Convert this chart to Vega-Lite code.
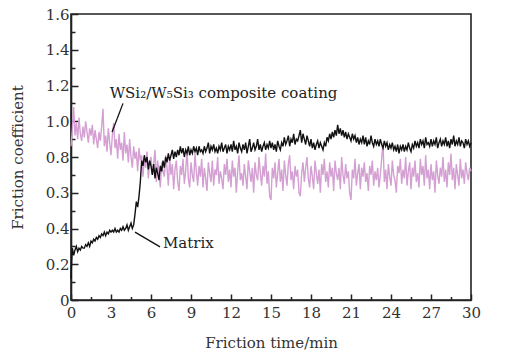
{
  "$schema": "https://vega.github.io/schema/vega-lite/v6.json",
  "width": 400,
  "height": 286,
  "autosize": "none",
  "padding": {"left": 71, "top": 14, "right": 51, "bottom": 54},
  "background": "#ffffff",
  "config": {
    "view": {"stroke": "#222222", "strokeWidth": 1.6},
    "axis": {
      "grid": false,
      "domainColor": "#222222",
      "domainWidth": 1.6,
      "tickColor": "#222222",
      "tickWidth": 1.5,
      "labelFont": "DejaVu Serif",
      "labelFontSize": 15,
      "labelColor": "#333333",
      "labelOverlap": false,
      "labelFlush": false,
      "labelBound": false,
      "titleFont": "DejaVu Serif",
      "titleFontSize": 15,
      "titleFontWeight": "normal",
      "titleColor": "#333333"
    },
    "text": {"font": "DejaVu Serif"}
  },
  "datasets": {
    "coating": [
      {"t":0.0,"f":0.86},{"t":0.1,"f":0.95},{"t":0.2,"f":1.08},{"t":0.3,"f":0.92},{"t":0.4,"f":0.99},{"t":0.5,"f":0.90},{"t":0.6,"f":1.02},{"t":0.7,"f":0.93},{"t":0.8,"f":0.89},{"t":0.9,"f":0.97},
      {"t":1.0,"f":0.91},{"t":1.1,"f":1.00},{"t":1.2,"f":0.94},{"t":1.3,"f":0.88},{"t":1.4,"f":0.96},{"t":1.5,"f":0.92},{"t":1.6,"f":0.98},{"t":1.7,"f":0.87},{"t":1.8,"f":0.95},{"t":1.9,"f":0.90},
      {"t":2.0,"f":0.85},{"t":2.1,"f":0.94},{"t":2.2,"f":0.89},{"t":2.3,"f":0.97},{"t":2.4,"f":1.07},{"t":2.5,"f":0.86},{"t":2.6,"f":0.92},{"t":2.7,"f":0.83},{"t":2.8,"f":0.96},{"t":2.9,"f":0.88},
      {"t":3.0,"f":0.81},{"t":3.1,"f":0.92},{"t":3.2,"f":0.99},{"t":3.3,"f":0.85},{"t":3.4,"f":0.90},{"t":3.5,"f":0.79},{"t":3.6,"f":0.93},{"t":3.7,"f":0.84},{"t":3.8,"f":0.88},{"t":3.9,"f":0.78},
      {"t":4.0,"f":0.94},{"t":4.1,"f":0.82},{"t":4.2,"f":0.87},{"t":4.3,"f":0.77},{"t":4.4,"f":0.90},{"t":4.5,"f":0.80},{"t":4.6,"f":0.74},{"t":4.7,"f":0.86},{"t":4.8,"f":0.79},{"t":4.9,"f":0.83},
      {"t":5.0,"f":0.72},{"t":5.1,"f":0.85},{"t":5.2,"f":0.78},{"t":5.3,"f":0.81},{"t":5.4,"f":0.69},{"t":5.5,"f":0.80},{"t":5.6,"f":0.74},{"t":5.7,"f":0.83},{"t":5.8,"f":0.68},{"t":5.9,"f":0.77},
      {"t":6.0,"f":0.80},{"t":6.1,"f":0.70},{"t":6.2,"f":0.76},{"t":6.3,"f":0.84},{"t":6.4,"f":0.66},{"t":6.5,"f":0.78},{"t":6.6,"f":0.71},{"t":6.7,"f":0.63},{"t":6.8,"f":0.77},{"t":6.9,"f":0.72},
      {"t":7.0,"f":0.69},{"t":7.1,"f":0.81},{"t":7.2,"f":0.74},{"t":7.3,"f":0.64},{"t":7.4,"f":0.79},{"t":7.5,"f":0.70},{"t":7.6,"f":0.76},{"t":7.7,"f":0.62},{"t":7.8,"f":0.73},{"t":7.9,"f":0.78},
      {"t":8.0,"f":0.66},{"t":8.1,"f":0.61},{"t":8.2,"f":0.75},{"t":8.3,"f":0.70},{"t":8.4,"f":0.79},{"t":8.5,"f":0.65},{"t":8.6,"f":0.72},{"t":8.7,"f":0.84},{"t":8.8,"f":0.68},{"t":8.9,"f":0.63},
      {"t":9.0,"f":0.77},{"t":9.1,"f":0.70},{"t":9.2,"f":0.66},{"t":9.3,"f":0.82},{"t":9.4,"f":0.72},{"t":9.5,"f":0.64},{"t":9.6,"f":0.75},{"t":9.7,"f":0.69},{"t":9.8,"f":0.79},{"t":9.9,"f":0.63},
      {"t":10.0,"f":0.74},{"t":10.1,"f":0.68},{"t":10.2,"f":0.61},{"t":10.3,"f":0.77},{"t":10.4,"f":0.71},{"t":10.5,"f":0.66},{"t":10.6,"f":0.78},{"t":10.7,"f":0.64},{"t":10.8,"f":0.73},{"t":10.9,"f":0.70},
      {"t":11.0,"f":0.80},{"t":11.1,"f":0.65},{"t":11.2,"f":0.72},{"t":11.3,"f":0.68},{"t":11.4,"f":0.62},{"t":11.5,"f":0.76},{"t":11.6,"f":0.70},{"t":11.7,"f":0.79},{"t":11.8,"f":0.66},{"t":11.9,"f":0.73},
      {"t":12.0,"f":0.63},{"t":12.1,"f":0.78},{"t":12.2,"f":0.69},{"t":12.3,"f":0.74},{"t":12.4,"f":0.60},{"t":12.5,"f":0.72},{"t":12.6,"f":0.81},{"t":12.7,"f":0.67},{"t":12.8,"f":0.71},{"t":12.9,"f":0.64},
      {"t":13.0,"f":0.76},{"t":13.1,"f":0.69},{"t":13.2,"f":0.62},{"t":13.3,"f":0.78},{"t":13.4,"f":0.72},{"t":13.5,"f":0.66},{"t":13.6,"f":0.74},{"t":13.7,"f":0.60},{"t":13.8,"f":0.77},{"t":13.9,"f":0.70},
      {"t":14.0,"f":0.67},{"t":14.1,"f":0.80},{"t":14.2,"f":0.71},{"t":14.3,"f":0.64},{"t":14.4,"f":0.75},{"t":14.5,"f":0.69},{"t":14.6,"f":0.82},{"t":14.7,"f":0.65},{"t":14.8,"f":0.72},{"t":14.9,"f":0.58},
      {"t":15.0,"f":0.56},{"t":15.1,"f":0.74},{"t":15.2,"f":0.68},{"t":15.3,"f":0.77},{"t":15.4,"f":0.63},{"t":15.5,"f":0.71},{"t":15.6,"f":0.79},{"t":15.7,"f":0.66},{"t":15.8,"f":0.73},{"t":15.9,"f":0.61},
      {"t":16.0,"f":0.78},{"t":16.1,"f":0.70},{"t":16.2,"f":0.64},{"t":16.3,"f":0.76},{"t":16.4,"f":0.81},{"t":16.5,"f":0.67},{"t":16.6,"f":0.72},{"t":16.7,"f":0.62},{"t":16.8,"f":0.75},{"t":16.9,"f":0.69},
      {"t":17.0,"f":0.73},{"t":17.1,"f":0.60},{"t":17.2,"f":0.58},{"t":17.3,"f":0.71},{"t":17.4,"f":0.77},{"t":17.5,"f":0.66},{"t":17.6,"f":0.74},{"t":17.7,"f":0.80},{"t":17.8,"f":0.68},{"t":17.9,"f":0.63},
      {"t":18.0,"f":0.75},{"t":18.1,"f":0.69},{"t":18.2,"f":0.62},{"t":18.3,"f":0.78},{"t":18.4,"f":0.71},{"t":18.5,"f":0.65},{"t":18.6,"f":0.73},{"t":18.7,"f":0.60},{"t":18.8,"f":0.76},{"t":18.9,"f":0.70},
      {"t":19.0,"f":0.79},{"t":19.1,"f":0.66},{"t":19.2,"f":0.72},{"t":19.3,"f":0.63},{"t":19.4,"f":0.77},{"t":19.5,"f":0.69},{"t":19.6,"f":0.74},{"t":19.7,"f":0.61},{"t":19.8,"f":0.78},{"t":19.9,"f":0.71},
      {"t":20.0,"f":0.67},{"t":20.1,"f":0.74},{"t":20.2,"f":0.62},{"t":20.3,"f":0.80},{"t":20.4,"f":0.70},{"t":20.5,"f":0.65},{"t":20.6,"f":0.76},{"t":20.7,"f":0.68},{"t":20.8,"f":0.72},{"t":20.9,"f":0.60},
      {"t":21.0,"f":0.56},{"t":21.1,"f":0.73},{"t":21.2,"f":0.68},{"t":21.3,"f":0.79},{"t":21.4,"f":0.64},{"t":21.5,"f":0.71},{"t":21.6,"f":0.76},{"t":21.7,"f":0.62},{"t":21.8,"f":0.74},{"t":21.9,"f":0.69},
      {"t":22.0,"f":0.77},{"t":22.1,"f":0.66},{"t":22.2,"f":0.71},{"t":22.3,"f":0.61},{"t":22.4,"f":0.75},{"t":22.5,"f":0.70},{"t":22.6,"f":0.78},{"t":22.7,"f":0.64},{"t":22.8,"f":0.72},{"t":22.9,"f":0.67},
      {"t":23.0,"f":0.74},{"t":23.1,"f":0.63},{"t":23.2,"f":0.70},{"t":23.3,"f":0.79},{"t":23.4,"f":0.88},{"t":23.5,"f":0.66},{"t":23.6,"f":0.73},{"t":23.7,"f":0.62},{"t":23.8,"f":0.76},{"t":23.9,"f":0.69},
      {"t":24.0,"f":0.64},{"t":24.1,"f":0.78},{"t":24.2,"f":0.70},{"t":24.3,"f":0.67},{"t":24.4,"f":0.60},{"t":24.5,"f":0.75},{"t":24.6,"f":0.71},{"t":24.7,"f":0.79},{"t":24.8,"f":0.65},{"t":24.9,"f":0.73},
      {"t":25.0,"f":0.68},{"t":25.1,"f":0.80},{"t":25.2,"f":0.64},{"t":25.3,"f":0.72},{"t":25.4,"f":0.77},{"t":25.5,"f":0.62},{"t":25.6,"f":0.74},{"t":25.7,"f":0.69},{"t":25.8,"f":0.78},{"t":25.9,"f":0.66},
      {"t":26.0,"f":0.71},{"t":26.1,"f":0.63},{"t":26.2,"f":0.79},{"t":26.3,"f":0.70},{"t":26.4,"f":0.75},{"t":26.5,"f":0.64},{"t":26.6,"f":0.81},{"t":26.7,"f":0.68},{"t":26.8,"f":0.73},{"t":26.9,"f":0.62},
      {"t":27.0,"f":0.76},{"t":27.1,"f":0.67},{"t":27.2,"f":0.72},{"t":27.3,"f":0.60},{"t":27.4,"f":0.78},{"t":27.5,"f":0.70},{"t":27.6,"f":0.65},{"t":27.7,"f":0.74},{"t":27.8,"f":0.69},{"t":27.9,"f":0.80},
      {"t":28.0,"f":0.66},{"t":28.1,"f":0.73},{"t":28.2,"f":0.63},{"t":28.3,"f":0.77},{"t":28.4,"f":0.70},{"t":28.5,"f":0.82},{"t":28.6,"f":0.67},{"t":28.7,"f":0.74},{"t":28.8,"f":0.62},{"t":28.9,"f":0.76},
      {"t":29.0,"f":0.70},{"t":29.1,"f":0.64},{"t":29.2,"f":0.79},{"t":29.3,"f":0.68},{"t":29.4,"f":0.73},{"t":29.5,"f":0.65},{"t":29.6,"f":0.77},{"t":29.7,"f":0.71},{"t":29.8,"f":0.67},{"t":29.9,"f":0.74},
      {"t":30.0,"f":0.72}
    ],
    "matrix": [
      {"t":0.0,"f":0.12},{"t":0.05,"f":0.22},{"t":0.1,"f":0.29},{"t":0.2,"f":0.25},{"t":0.3,"f":0.28},{"t":0.4,"f":0.30},{"t":0.5,"f":0.27},{"t":0.6,"f":0.29},{"t":0.7,"f":0.28},{"t":0.8,"f":0.30},{"t":0.9,"f":0.29},
      {"t":1.0,"f":0.29},{"t":1.1,"f":0.31},{"t":1.2,"f":0.30},{"t":1.3,"f":0.32},{"t":1.4,"f":0.30},{"t":1.5,"f":0.33},{"t":1.6,"f":0.32},{"t":1.7,"f":0.34},{"t":1.8,"f":0.33},{"t":1.9,"f":0.35},
      {"t":2.0,"f":0.34},{"t":2.1,"f":0.36},{"t":2.2,"f":0.35},{"t":2.3,"f":0.37},{"t":2.4,"f":0.36},{"t":2.5,"f":0.38},{"t":2.6,"f":0.36},{"t":2.7,"f":0.38},{"t":2.8,"f":0.37},{"t":2.9,"f":0.39},
      {"t":3.0,"f":0.38},{"t":3.1,"f":0.39},{"t":3.2,"f":0.38},{"t":3.3,"f":0.40},{"t":3.4,"f":0.38},{"t":3.5,"f":0.39},{"t":3.6,"f":0.38},{"t":3.7,"f":0.40},{"t":3.8,"f":0.39},{"t":3.9,"f":0.41},
      {"t":4.0,"f":0.39},{"t":4.1,"f":0.40},{"t":4.2,"f":0.42},{"t":4.3,"f":0.39},{"t":4.4,"f":0.41},{"t":4.5,"f":0.43},{"t":4.6,"f":0.40},{"t":4.7,"f":0.42},{"t":4.8,"f":0.48},{"t":4.9,"f":0.55},
      {"t":5.0,"f":0.52},{"t":5.1,"f":0.58},{"t":5.2,"f":0.66},{"t":5.3,"f":0.78},{"t":5.4,"f":0.75},{"t":5.5,"f":0.81},{"t":5.6,"f":0.77},{"t":5.7,"f":0.80},{"t":5.8,"f":0.73},{"t":5.9,"f":0.78},
      {"t":6.0,"f":0.75},{"t":6.1,"f":0.70},{"t":6.2,"f":0.76},{"t":6.3,"f":0.68},{"t":6.4,"f":0.74},{"t":6.5,"f":0.71},{"t":6.6,"f":0.67},{"t":6.7,"f":0.75},{"t":6.8,"f":0.72},{"t":6.9,"f":0.78},
      {"t":7.0,"f":0.74},{"t":7.1,"f":0.80},{"t":7.2,"f":0.77},{"t":7.3,"f":0.82},{"t":7.4,"f":0.78},{"t":7.5,"f":0.81},{"t":7.6,"f":0.84},{"t":7.7,"f":0.79},{"t":7.8,"f":0.83},{"t":7.9,"f":0.80},
      {"t":8.0,"f":0.84},{"t":8.1,"f":0.81},{"t":8.2,"f":0.86},{"t":8.3,"f":0.82},{"t":8.4,"f":0.85},{"t":8.5,"f":0.80},{"t":8.6,"f":0.84},{"t":8.7,"f":0.82},{"t":8.8,"f":0.86},{"t":8.9,"f":0.81},
      {"t":9.0,"f":0.84},{"t":9.1,"f":0.82},{"t":9.2,"f":0.86},{"t":9.3,"f":0.83},{"t":9.4,"f":0.85},{"t":9.5,"f":0.81},{"t":9.6,"f":0.86},{"t":9.7,"f":0.83},{"t":9.8,"f":0.84},{"t":9.9,"f":0.82},
      {"t":10.0,"f":0.86},{"t":10.1,"f":0.83},{"t":10.2,"f":0.85},{"t":10.3,"f":0.88},{"t":10.4,"f":0.82},{"t":10.5,"f":0.86},{"t":10.6,"f":0.84},{"t":10.7,"f":0.87},{"t":10.8,"f":0.83},{"t":10.9,"f":0.85},
      {"t":11.0,"f":0.82},{"t":11.1,"f":0.86},{"t":11.2,"f":0.84},{"t":11.3,"f":0.88},{"t":11.4,"f":0.83},{"t":11.5,"f":0.85},{"t":11.6,"f":0.87},{"t":11.7,"f":0.82},{"t":11.8,"f":0.86},{"t":11.9,"f":0.84},
      {"t":12.0,"f":0.87},{"t":12.1,"f":0.83},{"t":12.2,"f":0.89},{"t":12.3,"f":0.84},{"t":12.4,"f":0.86},{"t":12.5,"f":0.82},{"t":12.6,"f":0.88},{"t":12.7,"f":0.85},{"t":12.8,"f":0.83},{"t":12.9,"f":0.87},
      {"t":13.0,"f":0.84},{"t":13.1,"f":0.88},{"t":13.2,"f":0.82},{"t":13.3,"f":0.86},{"t":13.4,"f":0.90},{"t":13.5,"f":0.83},{"t":13.6,"f":0.85},{"t":13.7,"f":0.88},{"t":13.8,"f":0.84},{"t":13.9,"f":0.86},
      {"t":14.0,"f":0.90},{"t":14.1,"f":0.84},{"t":14.2,"f":0.87},{"t":14.3,"f":0.83},{"t":14.4,"f":0.86},{"t":14.5,"f":0.88},{"t":14.6,"f":0.84},{"t":14.7,"f":0.87},{"t":14.8,"f":0.85},{"t":14.9,"f":0.89},
      {"t":15.0,"f":0.85},{"t":15.1,"f":0.88},{"t":15.2,"f":0.84},{"t":15.3,"f":0.87},{"t":15.4,"f":0.83},{"t":15.5,"f":0.89},{"t":15.6,"f":0.86},{"t":15.7,"f":0.84},{"t":15.8,"f":0.88},{"t":15.9,"f":0.86},
      {"t":16.0,"f":0.91},{"t":16.1,"f":0.87},{"t":16.2,"f":0.89},{"t":16.3,"f":0.92},{"t":16.4,"f":0.86},{"t":16.5,"f":0.90},{"t":16.6,"f":0.88},{"t":16.7,"f":0.93},{"t":16.8,"f":0.87},{"t":16.9,"f":0.90},
      {"t":17.0,"f":0.89},{"t":17.1,"f":0.92},{"t":17.2,"f":0.95},{"t":17.3,"f":0.88},{"t":17.4,"f":0.93},{"t":17.5,"f":0.90},{"t":17.6,"f":0.87},{"t":17.7,"f":0.92},{"t":17.8,"f":0.89},{"t":17.9,"f":0.86},
      {"t":18.0,"f":0.90},{"t":18.1,"f":0.85},{"t":18.2,"f":0.88},{"t":18.3,"f":0.84},{"t":18.4,"f":0.87},{"t":18.5,"f":0.89},{"t":18.6,"f":0.85},{"t":18.7,"f":0.88},{"t":18.8,"f":0.86},{"t":18.9,"f":0.84},
      {"t":19.0,"f":0.88},{"t":19.1,"f":0.86},{"t":19.2,"f":0.91},{"t":19.3,"f":0.89},{"t":19.4,"f":0.93},{"t":19.5,"f":0.90},{"t":19.6,"f":0.94},{"t":19.7,"f":0.91},{"t":19.8,"f":0.95},{"t":19.9,"f":0.92},
      {"t":20.0,"f":0.98},{"t":20.1,"f":0.93},{"t":20.2,"f":0.96},{"t":20.3,"f":0.92},{"t":20.4,"f":0.95},{"t":20.5,"f":0.91},{"t":20.6,"f":0.94},{"t":20.7,"f":0.90},{"t":20.8,"f":0.93},{"t":20.9,"f":0.91},
      {"t":21.0,"f":0.89},{"t":21.1,"f":0.93},{"t":21.2,"f":0.90},{"t":21.3,"f":0.92},{"t":21.4,"f":0.88},{"t":21.5,"f":0.91},{"t":21.6,"f":0.87},{"t":21.7,"f":0.90},{"t":21.8,"f":0.88},{"t":21.9,"f":0.92},
      {"t":22.0,"f":0.87},{"t":22.1,"f":0.91},{"t":22.2,"f":0.86},{"t":22.3,"f":0.89},{"t":22.4,"f":0.87},{"t":22.5,"f":0.92},{"t":22.6,"f":0.88},{"t":22.7,"f":0.86},{"t":22.8,"f":0.90},{"t":22.9,"f":0.87},
      {"t":23.0,"f":0.89},{"t":23.1,"f":0.86},{"t":23.2,"f":0.90},{"t":23.3,"f":0.87},{"t":23.4,"f":0.85},{"t":23.5,"f":0.89},{"t":23.6,"f":0.86},{"t":23.7,"f":0.88},{"t":23.8,"f":0.84},{"t":23.9,"f":0.87},
      {"t":24.0,"f":0.85},{"t":24.1,"f":0.88},{"t":24.2,"f":0.84},{"t":24.3,"f":0.86},{"t":24.4,"f":0.83},{"t":24.5,"f":0.87},{"t":24.6,"f":0.82},{"t":24.7,"f":0.86},{"t":24.8,"f":0.84},{"t":24.9,"f":0.87},
      {"t":25.0,"f":0.83},{"t":25.1,"f":0.86},{"t":25.2,"f":0.84},{"t":25.3,"f":0.88},{"t":25.4,"f":0.85},{"t":25.5,"f":0.83},{"t":25.6,"f":0.87},{"t":25.7,"f":0.85},{"t":25.8,"f":0.89},{"t":25.9,"f":0.86},
      {"t":26.0,"f":0.88},{"t":26.1,"f":0.85},{"t":26.2,"f":0.90},{"t":26.3,"f":0.87},{"t":26.4,"f":0.89},{"t":26.5,"f":0.85},{"t":26.6,"f":0.91},{"t":26.7,"f":0.87},{"t":26.8,"f":0.88},{"t":26.9,"f":0.86},
      {"t":27.0,"f":0.90},{"t":27.1,"f":0.86},{"t":27.2,"f":0.89},{"t":27.3,"f":0.87},{"t":27.4,"f":0.91},{"t":27.5,"f":0.85},{"t":27.6,"f":0.88},{"t":27.7,"f":0.90},{"t":27.8,"f":0.86},{"t":27.9,"f":0.89},
      {"t":28.0,"f":0.87},{"t":28.1,"f":0.91},{"t":28.2,"f":0.86},{"t":28.3,"f":0.89},{"t":28.4,"f":0.85},{"t":28.5,"f":0.90},{"t":28.6,"f":0.87},{"t":28.7,"f":0.92},{"t":28.8,"f":0.86},{"t":28.9,"f":0.89},
      {"t":29.0,"f":0.87},{"t":29.1,"f":0.91},{"t":29.2,"f":0.86},{"t":29.3,"f":0.89},{"t":29.4,"f":0.88},{"t":29.5,"f":0.85},{"t":29.6,"f":0.90},{"t":29.7,"f":0.87},{"t":29.8,"f":0.89},{"t":29.9,"f":0.86},
      {"t":30.0,"f":0.88}
    ],
    "labels": [
      {"t":2.9,"f":1.16,"label":"WSi₂/W₅Si₃ composite coating"},
      {"t":6.9,"f":0.32,"label":"Matrix"}
    ],
    "leaders": [
      {"t":3.08,"f":0.94,"t2":3.9,"f2":1.10},
      {"t":4.8,"f":0.38,"t2":6.68,"f2":0.297}
    ]
  },
  "encoding": {
    "x": {
      "field": "t", "type": "quantitative",
      "scale": {"domain": [0, 30], "nice": false},
      "axis": {
        "title": "Friction time/min",
        "values": [0,1.5,3,4.5,6,7.5,9,10.5,12,13.5,15,16.5,18,19.5,21,22.5,24,25.5,27,28.5,30],
        "tickSize": {"condition": {"test": "datum.value % 3 == 0", "value": -6}, "value": -3.5},
        "labelExpr": "datum.value % 3 == 0 ? format(datum.value, 'd') : ''",
        "labelOverlap": false,
        "labelPadding": 11,
        "titlePadding": 13
      }
    },
    "y": {
      "field": "f", "type": "quantitative",
      "scale": {"domain": [0, 1.6], "nice": false},
      "axis": {
        "title": "Friction coefficient",
        "values": [0,0.1,0.2,0.3,0.4,0.5,0.6,0.7,0.8,0.9,1.0,1.1,1.2,1.3,1.4,1.5,1.6],
        "tickSize": {"condition": {"test": "round(datum.value*10) % 2 == 0", "value": -7}, "value": -4},
        "labelExpr": "round(datum.value*10) % 2 != 0 ? '' : (round(datum.value*10) == 6 ? '0.3' : (datum.value == 0 ? '0' : format(datum.value, '.1f')))",
        "labelOverlap": false,
        "labelPadding": 9,
        "titlePadding": 20
      }
    }
  },
  "layer": [
    {
      "data": {"name": "coating"},
      "mark": {"type": "line", "color": "#d49fd2", "strokeWidth": 1.4}
    },
    {
      "data": {"name": "matrix"},
      "mark": {"type": "line", "color": "#111111", "strokeWidth": 1.4}
    },
    {
      "data": {"name": "leaders"},
      "mark": {"type": "rule", "color": "#111111", "strokeWidth": 1.3},
      "encoding": {
        "x2": {"field": "t2"},
        "y2": {"field": "f2"}
      }
    },
    {
      "data": {"name": "labels"},
      "mark": {"type": "text", "align": "left", "baseline": "middle", "fontSize": 15, "color": "#222222", "font": "DejaVu Serif"},
      "encoding": {
        "text": {"field": "label"}
      }
    }
  ]
}
